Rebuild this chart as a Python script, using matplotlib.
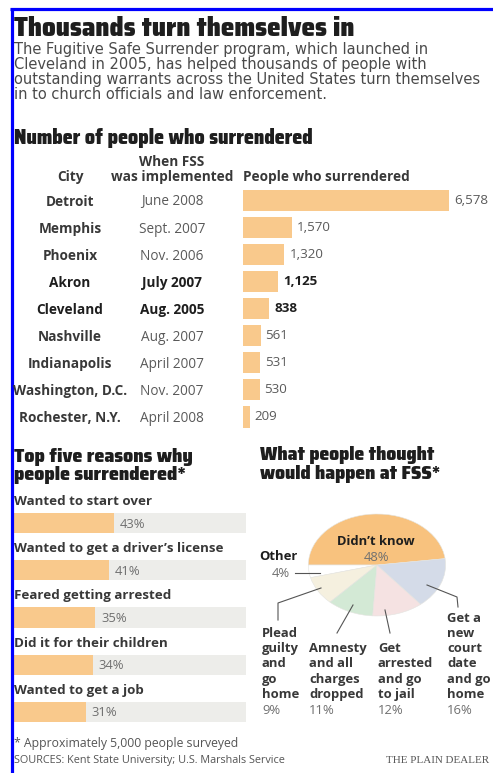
import numpy as np
import matplotlib
matplotlib.use('Agg')
from matplotlib import pyplot as plt
from matplotlib import font_manager as fm

# データ
cities = ['Detroit', 'Memphis', 'Phoenix', 'Akron', 'Cleveland', 'Nashville',
          'Indianapolis', 'Washington, D.C.', 'Rochester, N.Y.']
start_dates = ['June 2008', 'Sept. 2007', 'Nov. 2006', 'July 2007', 'Aug. 2005',
               'Aug. 2007', 'April 2007', 'Nov. 2007', 'April 2008']
surrendered = [6578, 1570, 1320, 1125, 838, 561, 531, 530, 209]
ohio_cities = ['Akron', 'Cleveland']

reasons = ['Wanted to start over', 'Wanted to get a driver\u2019s license',
           'Feared getting arrested', 'Did it for their children',
           'Wanted to get a job']
reason_pct = [43, 41, 35, 34, 31]

expect_labels = ['Didn\u2019t know', 'Other', 'Plead\nguilty\nand\ngo\nhome',
                 'Amnesty\nand all\ncharges\ndropped', 'Get\narrested\nand go\nto jail',
                 'Get a\nnew\ncourt\ndate\nand go\nhome']
expect_pct = [48, 4, 9, 11, 12, 16]

# 色・フォント
ORANGE = '#f9c98c'
PIE_COLORS = ['#f8c27e', '#ffffff', '#f5f0df', '#d3e9d5', '#f5e2e2', '#d4dbe8']
GRAY_BG = '#ededea'
DARK = '#1e1e1e'
MID = '#383838'
LIGHT = '#5a5a5a'
PCT = '#707070'
SANS = ['Open Sans', 'DejaVu Sans']


def narrow_bold():
   # 細身の太字フォントを探す（なければ Liberation Sans Bold）
   found = []
   for f in fm.fontManager.ttflist:
      nm = f.name.lower()
      st = str(f.stretch).lower()
      wt = f.weight
      if isinstance(wt, str):
         bold = wt in ('bold', 'heavy', 'black', 'extra bold', 'demibold', 'semibold')
      else:
         bold = wt >= 600
      cond = ('condensed' in st) or ('narrow' in nm) or ('condensed' in nm) or ('narrow' in f.fname.lower())
      if cond and bold and not any(k in nm for k in ('mono', 'serif', 'cjk')):
         found.append(f)
   if found:
      found.sort(key=lambda f: (f.weight if not isinstance(f.weight, str) else 700))
      return dict(fontproperties=fm.FontProperties(fname=found[-1].fname))
   return dict(family=['Liberation Sans', 'DejaVu Sans'], fontweight='bold')


HEAD = narrow_bold()

W, H = 493, 773
fig = plt.figure(figsize=(W / 100, H / 100), dpi=100)
fig.patch.set_facecolor('white')
renderer = fig.canvas.get_renderer()


def box(x0, y0, x1, y1):
   # ピクセル座標 -> figure 座標
   return [x0 / W, 1 - y1 / H, (x1 - x0) / W, (y1 - y0) / H]


# 全体を覆う座標系（ピクセル単位）、一番上に重ねる
ax0 = fig.add_axes([0, 0, 1, 1])
ax0.set_xlim(0, W)
ax0.set_ylim(H, 0)
ax0.axis('off')
ax0.set_zorder(10)
ax0.patch.set_alpha(0)


def txt(x, y, s, size=9.8, weight='normal', color=MID, family=SANS, ha='left'):
   return ax0.text(x, y, s, fontsize=size, fontweight=weight, color=color,
                   family=family, ha=ha, va='baseline')


def head(x, y, s):
   return ax0.text(x, y, s, color=DARK, ha='left', va='baseline', **HEAD)


def fit(t, width):
   # 文字幅を参照画像に合わせる
   w = t.get_window_extent(renderer).width
   t.set_fontsize(t.get_fontsize() * width / w)
   return t.get_fontsize()


# 青い枠
ax0.plot([11.5, 11.5], [8, H], color='#0000ff', lw=2.3, solid_capstyle='butt')
ax0.plot([10, W], [9, 9], color='#0000ff', lw=2.3, solid_capstyle='butt')

# タイトルと説明文
fit(head(14, 36, 'Thousands turn themselves in'), 338)
body = ['The Fugitive Safe Surrender program, which launched in',
        'Cleveland in 2005, has helped thousands of people with',
        'outstanding warrants across the United States turn themselves',
        'in to church officials and law enforcement.']
body_t = [txt(14, 54 + i * 14.9, line, color='#4a4a4a', family=['DejaVu Sans'])
          for i, line in enumerate(body)]
bs = fit(body_t[2], 466)
for t in body_t:
   t.set_fontsize(bs)

fit(head(14, 144, 'Number of people who surrendered'), 299)

# 表の見出し
txt(70, 181.5, 'City', weight='bold', ha='center')
txt(172, 166, 'When FSS', weight='bold', ha='center')
txt(172, 181.5, 'was implemented', weight='bold', ha='center')
txt(243, 181.5, 'People who surrendered', weight='bold')

# 都市別の棒グラフ
row0, row_step = 200.5, 27.06
n = len(cities)
ax1 = fig.add_axes(box(243, row0 - row_step / 2, 449, row0 + row_step * (n - 0.5)))
ax1.barh(np.arange(n), surrendered, height=0.78, color=ORANGE)
ax1.set_xlim(0, max(surrendered))
ax1.set_ylim(n - 0.5, -0.5)
ax1.axis('off')
ax1.patch.set_alpha(0)
for i, (c, d, v) in enumerate(zip(cities, start_dates, surrendered)):
   y = row0 + i * row_step + 5
   ohio = c in ohio_cities
   txt(70, y, c, weight='bold', color=DARK if ohio else MID, ha='center')
   txt(172, y, d, weight='bold' if ohio else 'normal', color=DARK if ohio else LIGHT, ha='center')
   ax1.annotate(f'{v:,}', (v, i), xytext=(5, 0), textcoords='offset pixels',
                ha='left', va='center', fontsize=9.6, family=SANS,
                fontweight='bold' if ohio else 'normal',
                color=DARK if ohio else LIGHT)

# 理由の棒グラフ
hs = fit(head(14, 461.5, 'Top five reasons why'), 178)
head(14, 480, 'people surrendered*').set_fontsize(hs)
r0, r_step = 523, 47.25
m = len(reasons)
ax2 = fig.add_axes(box(14, r0 - r_step / 2, 246, r0 + r_step * (m - 0.5)))
ax2.barh(np.arange(m), [100] * m, height=0.43, color=GRAY_BG)
ax2.barh(np.arange(m), reason_pct, height=0.43, color=ORANGE)
ax2.set_xlim(0, 100)
ax2.set_ylim(m - 0.5, -0.5)
ax2.axis('off')
ax2.patch.set_alpha(0)
for i, (r, p) in enumerate(zip(reasons, reason_pct)):
   txt(14, r0 + i * r_step - 18, r, size=9.6, weight='bold', color=MID)
   ax2.annotate(f'{p}%', (p, i), xytext=(6, -1), textcoords='offset pixels',
                ha='left', va='center', fontsize=9.4, family=SANS, color=PCT)

# 円グラフ
ps = fit(head(260, 460.5, 'What people thought'), 175)
head(260, 479, 'would happen at FSS*').set_fontsize(ps)
ax3 = fig.add_axes(box(307, 513, 447, 617))
ax3.pie(expect_pct, colors=PIE_COLORS, startangle=7.2, counterclock=True,
        radius=1, wedgeprops=dict(linewidth=0.4, edgecolor='#e4e4e0'))
ax3.set_aspect('auto')
ax3.set_xlim(-1.02, 1.02)
ax3.set_ylim(-1.02, 1.02)

# 円グラフのラベル（ピクセル位置）
probe = txt(0, 0, 'arrested', size=9, weight='bold')
ls = fit(probe, 55)
probe.remove()
txt(376, 545, expect_labels[0], size=ls, weight='bold', color=DARK, ha='center')
txt(377, 561, f'{expect_pct[0]}%', size=ls, color=PCT, ha='center')
txt(278.5, 560, expect_labels[1], size=ls, weight='bold', color=DARK, ha='center')
txt(290, 577, f'{expect_pct[1]}%', size=ls, color=PCT, ha='right')
label_pos = [(262, 637), (309, 652.2), (378, 652.2), (447, 621.8)]
for (x, y), lab, p in zip(label_pos, expect_labels[2:], expect_pct[2:]):
   lines = lab.split('\n')
   for j, line in enumerate(lines):
      txt(x, y + j * 15.2, line, size=ls, weight='bold', color=MID)
   txt(x, y + len(lines) * 15.2 + 1, f'{p}%', size=ls, color=PCT)

leaders = [([295, 320], [573, 573]),
           ([278, 278, 321], [620, 603, 588]),
           ([337, 353], [633, 605]),
           ([390, 385], [633, 610]),
           ([427, 457, 458], [585, 597, 607])]
for xs, ys in leaders:
   ax0.plot(xs, ys, color='#555555', lw=0.8)

# 脚注
txt(14, 746.5, '* Approximately 5,000 people surveyed', size=8.8, color='#555555')
txt(14, 763, 'SOURCES: Kent State University; U.S. Marshals Service', size=7.8, color='#555555')
txt(489, 763, 'THE PLAIN DEALER', size=7.9, color='#555555',
    family=['Liberation Serif', 'DejaVu Serif'], ha='right')

fig.savefig('out.png', dpi=100)
